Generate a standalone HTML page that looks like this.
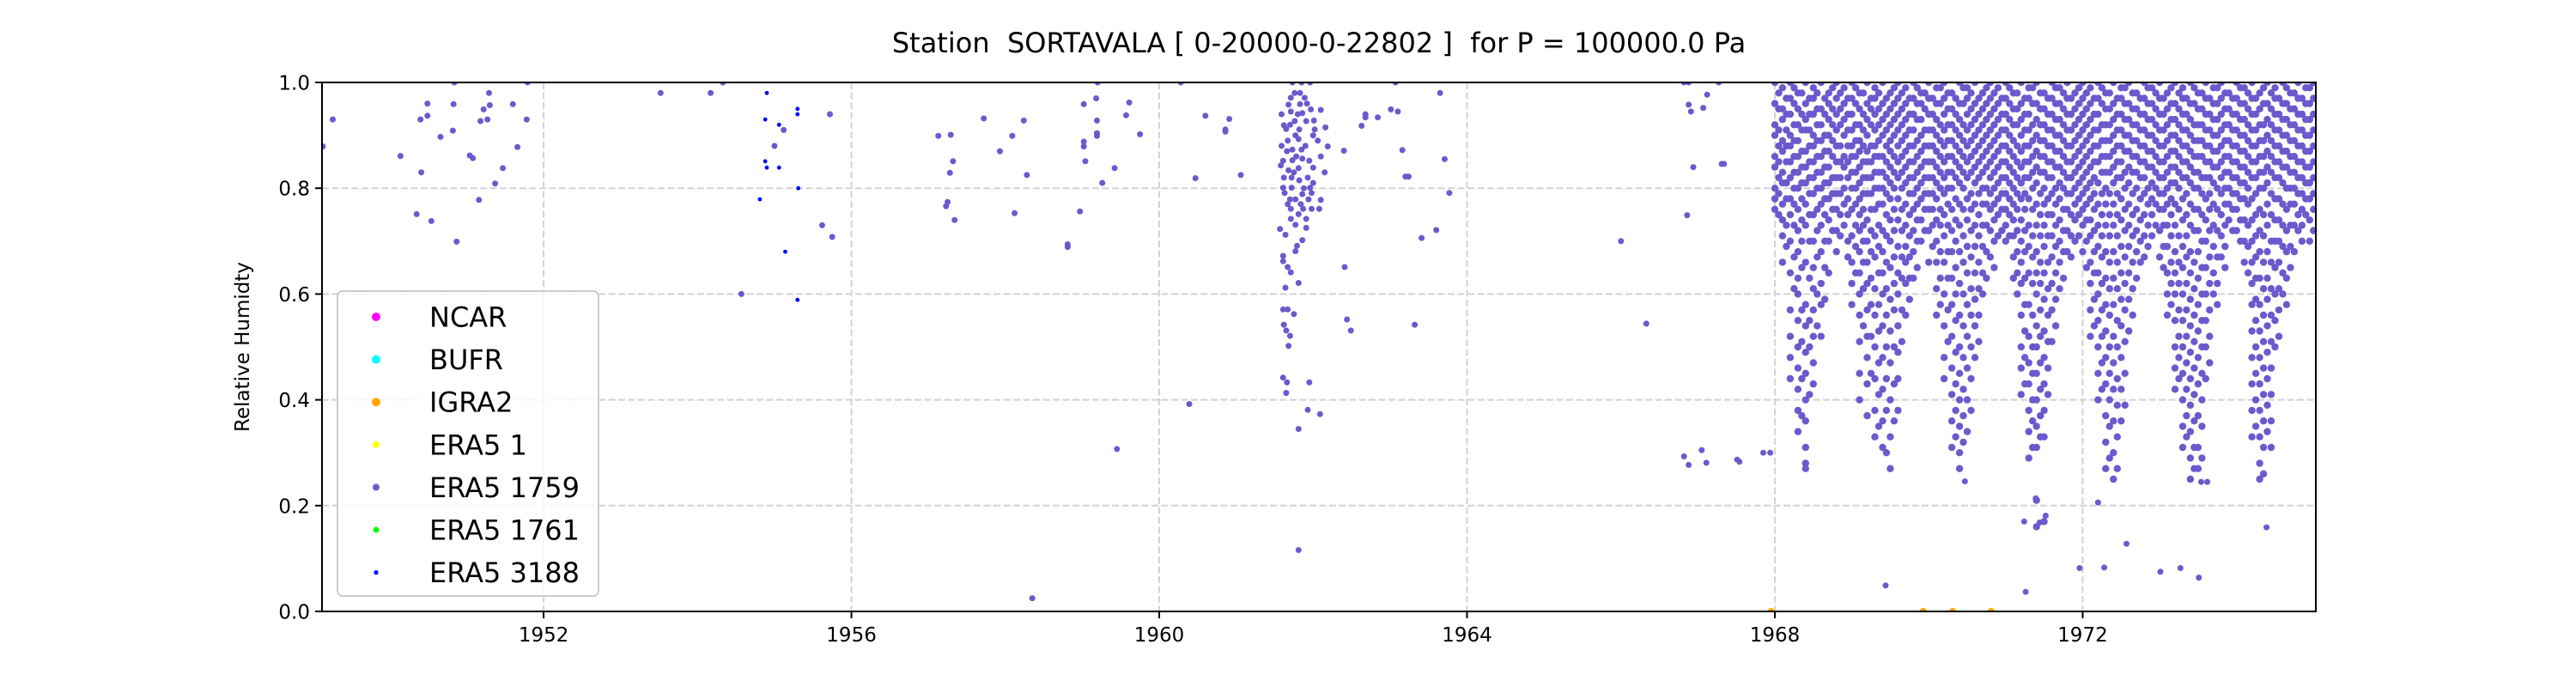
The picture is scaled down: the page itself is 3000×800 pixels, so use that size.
<!DOCTYPE html>
<html><head><meta charset="utf-8">
<style>
html,body{margin:0;padding:0;background:#fff;}
svg{display:block;font-family:"DejaVu Sans","Liberation Sans",sans-serif;}
#title{white-space:pre;}
</style></head>
<body>
<svg id="chart" width="3000" height="800" viewBox="0 0 3000 800" xmlns="http://www.w3.org/2000/svg">
<rect width="3000" height="800" fill="#fff"/>
<text id="title" xml:space="preserve" x="1536" y="61" font-size="32" text-anchor="middle" fill="#000">Station  SORTAVALA [ 0-20000-0-22802 ]  for P = 100000.0 Pa</text>
<defs><clipPath id="plotclip"><rect x="375" y="96" width="2322" height="616"/></clipPath></defs>
<g id="grid"></g>
<g id="marks" clip-path="url(#plotclip)"></g>
<g id="axes"></g>
<g id="legend"></g>
</svg>
<script>
// ---- data ----
const xTickYears = [1952, 1956, 1960, 1964, 1968, 1972];
const yTickValues = [0.0, 0.2, 0.4, 0.6, 0.8, 1.0];
const yTickLabels = ["0.0", "0.2", "0.4", "0.6", "0.8", "1.0"];
const legendLabels = ["NCAR", "BUFR", "IGRA2", "ERA5 1", "ERA5 1759", "ERA5 1761", "ERA5 3188"];
const legendColors = ["#ff00ff", "#00ffff", "#ffa500", "#ffff00", "#6a5acd", "#00ff00", "#0000ff"];

// ERA5 1759 sparse observations (decimal year, relative humidity)
const sparseYears = [1949.13,1949.26,1950.14,1950.41,1950.35,1950.40,1950.49,1950.49,1950.54,1950.66,1950.84,1950.83,1950.82,1950.87,1951.04,1951.08,1951.16,1951.18,1951.22,1951.27,1951.29,1951.30,1951.37,1951.47,1951.60,1951.66,1951.78,1951.79,1953.52,1954.17,1954.33,1955.72,1955.12,1955.00,1954.57,1955.62,1955.75,1957.13,1957.29,1957.32,1957.28,1957.25,1957.23,1957.34,1957.72,1957.93,1958.09,1958.24,1958.28,1958.12,1958.35,1958.81,1958.81,1958.97,1959.02,1959.18,1959.20,1959.19,1959.19,1959.19,1959.02,1959.02,1959.04,1959.26,1959.42,1959.45,1959.61,1959.57,1959.75,
1960.28,1960.60,1960.91,1960.86,1960.86,1960.47,1961.06,1960.39,1962.40,1962.63,1962.68,1962.68,1962.84,1963.01,1963.10,1963.07,1963.65,1963.16,1963.71,1963.20,1963.24,1963.77,1963.60,1963.41,1962.41,1962.44,1962.49,1963.32,1966.00,1966.33,1966.86,1966.82,1966.88,1967.27,1967.12,1966.88,1966.91,1967.07,1966.94,1967.31,1966.82,1966.88,1967.05,1967.11,1967.51,1967.54,1967.85,1967.94,1967.34,1969.44,1970.47,1971.26,1971.39,1971.24,1971.44,1971.52,1971.96,1972.28,1972.20,1972.57,1973.01,1973.27,1973.51,1974.39,1973.54,1973.62,
1961.61,1961.61,1961.67,1961.71,1961.81,1961.64,1961.77,1961.79,1961.86,1961.57,1961.64,1961.77,1961.91,1961.71,1961.81,1961.91,1961.98,1962.08,1961.87,1961.71,1961.67,1961.84,1961.94,1962.10,1961.77,1961.70,1961.86,1961.98,1961.63,1961.61,1961.72,1961.96,1962.00,1961.62,1961.72,1961.82,1961.93,1962.15,1961.58,1961.68,1961.81,1962.00,1962.10,1961.61,1961.73,1961.86,1961.95,1961.59,1961.73,1961.85,1962.19,1961.67,1961.81,1962.06,1961.77,1962.00,1961.65,1961.82,1962.02,1962.16,1961.62,1961.76,1961.91,1962.01,1961.59,1961.71,1961.86,1961.97,1962.10,1961.68,1961.83,1961.89,1961.71,1961.76,1961.83,1961.73,1961.85,1961.96,1961.66,1961.78,1961.90,1961.70,1961.80,1961.92,1961.75,1961.88,
1961.61,1961.67,1961.75,1961.62,1961.65,1961.70,1961.68,1961.61,1961.66,1961.95,1961.65,1961.93,1962.09,1961.81,1961.81];
const sparseRH = [0.879,0.93,0.861,0.83,0.751,0.93,0.96,0.937,0.738,0.897,1.0,0.959,0.909,0.699,0.862,0.857,0.778,0.927,0.949,0.93,0.98,0.957,0.809,0.838,0.959,0.878,0.93,1.0,0.98,0.98,1.0,0.94,0.91,0.88,0.60,0.73,0.708,0.899,0.901,0.851,0.829,0.774,0.766,0.74,0.932,0.87,0.899,0.928,0.825,0.753,0.025,0.694,0.689,0.756,0.959,0.97,1.0,0.928,0.904,0.899,0.888,0.879,0.851,0.81,0.838,0.307,0.962,0.938,0.902,
1.0,0.937,0.931,0.911,0.907,0.819,0.825,0.392,0.871,0.918,0.94,0.934,0.934,0.949,0.945,1.0,0.98,0.872,0.855,0.822,0.822,0.791,0.721,0.706,0.651,0.552,0.531,0.542,0.70,0.544,0.749,1.0,1.0,1.0,0.977,0.958,0.945,0.952,0.84,0.846,0.293,0.277,0.305,0.281,0.287,0.283,0.30,0.30,0.846,0.049,0.246,0.037,0.214,0.17,0.168,0.181,0.082,0.083,0.206,0.128,0.075,0.082,0.064,0.159,0.245,0.245,
0.672,0.662,0.651,0.641,0.621,0.612,0.681,0.691,0.702,0.723,0.712,0.731,0.725,0.742,0.751,0.742,0.761,0.761,0.761,0.761,0.770,0.770,0.779,0.778,0.779,0.779,0.789,0.791,0.791,0.801,0.801,0.801,0.81,0.82,0.82,0.815,0.82,0.83,0.843,0.834,0.838,0.839,0.86,0.852,0.853,0.856,0.852,0.88,0.873,0.873,0.879,0.89,0.893,0.89,0.90,0.90,0.912,0.911,0.911,0.915,0.919,0.927,0.927,0.928,0.94,0.945,0.942,0.949,0.948,0.958,0.959,0.971,0.971,0.98,0.98,1.0,1.0,1.0,0.87,0.86,0.88,0.92,0.94,0.96,0.83,0.80,
0.571,0.571,0.562,0.542,0.531,0.521,0.502,0.442,0.433,0.433,0.413,0.381,0.373,0.345,0.116];

// ERA5 1759 dense period: column years and RH values in percent
const denseYears = [1968.0,1968.1,1968.2,1968.3,1968.4,1968.5,1968.6,1968.7,1968.8,1968.9,1969.0,1969.1,1969.2,1969.3,1969.4,1969.5,1969.6,1969.7,1969.8,1969.9,1970.0,1970.1,1970.2,1970.3,1970.4,1970.5,1970.6,1970.7,1970.8,1970.9,1971.0,1971.1,1971.2,1971.3,1971.4,1971.5,1971.6,1971.7,1971.8,1971.9,1972.0,1972.1,1972.2,1972.3,1972.4,1972.5,1972.6,1972.7,1972.8,1972.9,1973.0,1973.1,1973.2,1973.3,1973.4,1973.5,1973.6,1973.7,1973.8,1973.9,1974.0,1974.1,1974.2,1974.3,1974.4,1974.5,1974.6,1974.7,1974.8,1974.9,1975.0];
const denseRHpct = [
[100,96,92,90,86,84,80,78,76],
[99,95,93,89,87,83,81,77,74,71,66],
[100,97,94,90,88,85,82,78,75,70,64,57,52,48,44],
[98,95,92,89,86,83,80,76,72,68,63,60,55,50,46,42,38,34],
[100,96,93,91,87,84,81,77,73,66,58,54,49,45,40,36,31,27,28],
[99,97,94,90,88,85,82,79,75,70,65,61,57,52,47,43],
[100,95,92,89,86,83,80,77,73,68,62,58,52],
[98,96,93,90,87,84,81,78,74,70,64],
[100,97,94,91,88,85,82,79,76,72,68],
[99,96,93,90,86,84,80,77,73],
[100,97,94,91,88,86,83,80,76,71,66,62,58],
[98,95,92,89,87,84,81,78,75,72,68,64,60,56,51,45,40],
[100,96,93,90,87,85,82,79,74,70,66,62,57,52,48,43,37],
[99,97,94,91,88,86,83,80,76,71,67,61,56,50,44,38,33],
[100,96,93,90,86,83,80,77,72,68,64,60,54,48,42,36,31],
[98,95,92,89,87,84,81,78,74,70,65,59,53,47,40,33,27],
[100,97,94,91,88,85,82,78,74,69,64,60,54,49,44,38],
[99,96,93,90,87,84,81,77,73,69,66,62,56],
[100,97,94,91,88,85,82,79,76,72,68,63],
[98,96,93,90,87,84,81,78,74,70],
[100,97,94,91,88,85,82,79,76,72,66],
[99,96,93,90,87,84,81,78,74,70,66,61,56],
[100,97,94,91,88,85,82,79,75,71,66,60,54,48,44],
[98,95,92,89,86,83,80,76,72,68,63,58,52,46,41,36,31],
[100,96,93,90,87,84,81,77,73,68,62,56,50,45,40,35,30,27],
[99,97,94,91,88,85,82,78,74,69,64,58,52,46,40,34],
[100,96,93,90,87,84,81,77,73,69,64,59,54,48],
[98,95,92,89,86,83,80,77,73,69,64,60],
[100,97,94,91,88,85,82,79,76,72,67],
[99,96,93,90,87,84,81,78,75,71],
[100,97,94,91,88,85,82,79,76,73,70],
[98,95,92,89,86,83,80,77,74,71,67,63],
[100,96,93,90,87,84,81,78,74,70,66,62,56,50,46,41],
[99,97,94,91,88,85,82,78,73,69,64,58,52,47,43,38,34,29],
[100,96,93,90,87,84,81,77,73,68,64,60,54,50,45,40,35,31,21,16],
[98,95,92,89,86,83,80,77,73,69,64,59,53,48,43,38,33,17],
[100,97,94,91,88,85,82,79,75,71,67,62,57,51],
[99,96,93,90,87,84,81,78,74,70,66,61],
[100,97,94,91,88,85,82,79,76,72,68],
[98,95,92,89,86,83,80,77,74,70],
[100,97,94,91,88,85,82,79,76,73,68],
[99,96,93,90,87,84,81,78,74,71,66,62,57,52],
[100,97,94,91,88,85,81,77,73,69,64,60,55,50,45,40],
[98,95,92,89,86,83,80,77,73,68,63,58,53,48,43,37,32,27],
[100,96,93,90,87,84,81,77,73,68,63,58,52,47,42,36,30,25],
[99,97,94,91,88,85,82,78,74,69,64,59,54,48,42,36],
[100,96,93,90,87,84,81,77,73,69,64,59,53],
[98,95,92,89,86,83,80,76,72,68,63],
[100,97,94,91,88,85,82,79,75,71,67],
[99,96,93,90,87,84,81,78,75,71],
[100,97,94,91,88,85,82,79,76,72,67],
[98,95,92,89,86,83,80,77,73,69,64,60,56],
[100,96,93,90,87,84,81,77,73,68,64,60,55,50,46,42],
[99,97,94,91,88,85,82,78,74,69,65,60,55,50,45,40,35,31],
[100,96,93,90,87,84,81,77,73,68,64,59,54,49,44,39,34,29,25],
[98,95,92,89,86,83,80,76,72,68,63,58,53,48,43,37,31,27],
[100,97,94,91,88,85,82,78,74,70,65,60,55,50,44],
[99,96,93,90,87,84,81,77,73,69,64,60],
[100,97,94,91,88,85,82,79,75,71,67],
[98,95,92,89,86,83,80,77,74],
[100,97,94,91,88,85,82,79,76,72],
[99,96,93,90,87,84,81,78,74,70,66],
[100,97,94,91,88,85,82,78,74,70,66,62,58,53,48,43,38,33],
[98,95,92,89,86,83,80,76,72,68,63,58,53,48,43,38,33,28,25],
[100,96,93,90,87,84,81,77,73,68,63,59,54,49,44,39,34],
[99,97,94,91,88,85,82,78,74,70,65,60,55,50],
[100,96,93,90,87,84,81,77,73,69,64,60],
[98,95,92,89,86,83,80,77,73,69,65],
[100,97,94,91,88,85,82,79,75,72],
[99,96,93,90,87,84,81,78,75],
[100,97,94,91,88,85,82,79,76,72]];

// ERA5 1759 dense period: in-between columns (upper band)
const midYears = [1968.05,1968.15,1968.25,1968.35,1968.45,1968.55,1968.65,1968.75,1968.85,1968.95,1969.05,1969.15,1969.25,1969.35,1969.45,1969.55,1969.65,1969.75,1969.85,1969.95,1970.05,1970.15,1970.25,1970.35,1970.45,1970.55,1970.65,1970.75,1970.85,1970.95,1971.05,1971.15,1971.25,1971.35,1971.45,1971.55,1971.65,1971.75,1971.85,1971.95,1972.05,1972.15,1972.25,1972.35,1972.45,1972.55,1972.65,1972.75,1972.85,1972.95,1973.05,1973.15,1973.25,1973.35,1973.45,1973.55,1973.65,1973.75,1973.85,1973.95,1974.05,1974.15,1974.25,1974.35,1974.45,1974.55,1974.65,1974.75,1974.85,1974.95];
const midRHpct = [
[98,95,91,88,85,82,79,75],[97,94,91,88,85,81,78,73,69],[99,96,92,89,86,83,80,77,73,67,61],[98,94,91,87,84,81,78,74,70,65,57,51,44,37],
[97,94,91,88,85,82,79,75,70,63,55,50,41],[98,95,92,89,86,83,80,76,72,67,60,54],[97,94,90,87,84,81,78,75,70,65,59],[99,95,92,89,86,82,79,76,72],
[98,95,92,88,85,82,79,75,71],[97,94,91,88,85,82,78,75,70,67],[99,96,92,89,86,83,80,77,73,69,64],[98,94,91,88,85,82,79,76,73,70,66,61,54],
[97,95,92,88,85,82,79,76,72,68,63,58,52,45],[98,95,92,89,86,83,80,77,73,69,64,58,53,47,41,35],[97,94,91,88,85,82,79,75,71,66,61,56,50,44,38,30],[99,96,93,90,86,83,80,76,72,67,62,57,50,43,36],
[98,95,92,89,86,83,80,76,72,67,63,57,51],[97,94,91,88,85,82,79,75,71,67,63,59],[99,96,93,89,86,83,80,77,74,70,65],[98,95,91,88,85,82,79,76,72],
[97,94,91,88,85,82,79,76,73,69],[99,96,92,89,86,83,80,76,73,68,63,58],[98,95,92,89,86,83,80,77,73,68,63,57,51],[97,94,91,88,85,82,78,74,70,65,60,55,49,43,38,33],
[99,96,92,89,86,83,80,76,71,66,60,54,48,42,37,32],[98,95,92,89,86,83,79,76,72,67,61,56,50,44,38],[97,94,91,88,85,82,79,75,71,66,61,56,51],[99,96,93,90,87,84,80,77,73,68,63],
[98,95,92,89,86,83,80,77,74,70,65],[97,94,91,88,85,82,79,76,72],[99,96,93,90,87,84,81,78,75,71],[98,95,92,88,85,82,79,76,72,68,64,60],
[97,94,91,88,85,82,79,76,72,68,63,58,53,48,43],[99,96,92,89,86,83,80,76,71,67,62,56,50,45,40,36,31],[98,95,92,89,86,83,79,75,71,66,62,57,52,47,42,37,33],[97,94,91,88,85,82,78,75,71,66,61,56,51,46,41],
[99,96,93,90,87,84,80,77,73,69,64,59,54],[98,95,92,89,86,83,80,76,72,68,63],[97,94,91,88,85,82,79,75,71,67],[99,96,93,90,87,84,81,78,75,71],
[98,95,92,89,86,83,80,77,74,70,65],[97,94,91,88,85,82,79,76,72,68,64,59,54],[99,96,92,89,86,83,79,75,71,67,62,57,52,47,42],[98,95,92,89,86,83,79,75,71,66,61,56,50,45,40,35,29],
[97,94,91,88,85,82,79,75,71,66,61,55,50,44,39,33,27],[99,96,93,90,87,83,80,76,72,67,62,57,51,45,39],[98,95,92,89,86,83,79,75,71,66,61,56],[97,94,91,88,85,82,78,74,70,66],
[99,96,93,90,87,84,80,77,73,69],[98,95,92,89,86,83,80,77,73],[97,94,91,88,85,82,79,76,73,69,65],[99,96,93,90,87,84,81,78,75,71,66,62,58],
[98,95,92,89,86,83,80,76,71,66,62,57,52,48,44],[97,94,91,88,85,82,79,75,71,67,62,57,52,47,42,37,33],[99,96,92,89,86,83,80,76,72,66,61,56,51,46,41,36,31,27],[98,95,92,89,86,82,79,75,70,65,60,55,50,45,40,35,29],
[97,94,91,88,85,82,79,76,72,67,62,57,52,47],[99,96,93,90,87,84,80,76,72,67,62,58],[98,95,92,89,86,83,80,77,73,69,65],[97,94,91,88,85,82,79,76,72],
[99,96,93,90,87,84,81,78,74,70],[98,95,92,89,86,83,80,77,73,69,64],[97,94,91,88,85,82,79,75,71,67,63,59,55,50,45,40,35],[99,96,92,89,86,83,80,75,71,66,61,56,51,46,41,36,31,26],
[98,95,92,89,86,83,79,75,70,66,61,56,51,46,41,36,31],[97,94,91,88,85,82,78,74,70,66,61,57,52],[99,96,93,90,87,84,80,76,72,68,63,58],[98,95,92,89,86,83,80,77,73,68],
[97,94,91,88,85,82,79,76,73,70],[99,96,93,90,87,84,81,78,74,70]];

// ERA5 3188 observations
const years3188 = [1954.90,1954.88,1955.06,1954.88,1954.90,1955.06,1955.30,1955.30,1955.31,1954.81,1955.14,1955.30];
const rh3188 = [0.98,0.93,0.92,0.851,0.839,0.839,0.95,0.94,0.80,0.779,0.68,0.589];

// IGRA2 observations
const yearsIGRA2 = [1967.95,1969.93,1970.31,1970.81];
const rhIGRA2 = [0.0,0.0,0.0,0.0];

// ---- axes ----
const X0 = 375, X1 = 2697, Y0 = 712, Y1 = 96;
const YEAR0 = 1949.12, YEAR1 = 1975.03;
function xScale(yr){ return X0 + (yr - YEAR0) / (YEAR1 - YEAR0) * (X1 - X0); }
function yScale(v){ return Y0 - v * (Y0 - Y1); }

const NS = "http://www.w3.org/2000/svg";
function mk(tag, attrs, parent){
  const e = document.createElementNS(NS, tag);
  for (const k in attrs) e.setAttribute(k, attrs[k]);
  parent.appendChild(e);
  return e;
}
const grid = document.getElementById('grid');
const marks = document.getElementById('marks');
const axes = document.getElementById('axes');
const legend = document.getElementById('legend');

xTickYears.forEach(function(yr){
  const l = mk('line', {x1:xScale(yr), x2:xScale(yr), y1:Y1, y2:Y0, stroke:'#d3d3d3', 'stroke-width':2, 'stroke-dasharray':'8,3.5'}, grid);
  
  
});
yTickValues.forEach(function(v){
  const l = mk('line', {x1:X0, x2:X1, y1:yScale(v), y2:yScale(v), stroke:'#d3d3d3', 'stroke-width':2, 'stroke-dasharray':'8,3.5'}, grid);
  
  
});

const C1759 = '#6a5acd';
function dot(yr, v, r, color, name){
  const c = mk('circle', {cx:xScale(yr).toFixed(1), cy:yScale(v).toFixed(1), r:r, fill:color}, marks);
  
  
}
for (let i = 0; i < sparseYears.length; i++) dot(sparseYears[i], sparseRH[i], 3.5, C1759, 'point-era5-1759');
for (let i = 0; i < denseYears.length; i++) {
  denseRHpct[i].forEach(function(p){ dot(denseYears[i], p / 100, 4.2, C1759, 'point-era5-1759'); });
}
for (let i = 0; i < midYears.length; i++) {
  midRHpct[i].forEach(function(p){ dot(midYears[i], p / 100, 4.2, C1759, 'point-era5-1759'); });
}
for (let i = 0; i < years3188.length; i++) dot(years3188[i], rh3188[i], 2.4, '#0000ff', 'point-era5-3188');
for (let i = 0; i < yearsIGRA2.length; i++) dot(yearsIGRA2[i], rhIGRA2[i], 4, '#ffa500', 'point-igra2');

const frame = mk('rect', {x:X0, y:Y1, width:X1-X0, height:Y0-Y1, fill:'none', stroke:'#000', 'stroke-width':2}, axes);



xTickYears.forEach(function(yr){
  const t = mk('line', {x1:xScale(yr), x2:xScale(yr), y1:Y0, y2:Y0+8, stroke:'#000', 'stroke-width':2}, axes);
  
  
  const tx = mk('text', {x:xScale(yr), y:Y0+35, 'font-size':23, 'text-anchor':'middle', fill:'#000'}, axes);
  tx.textContent = String(yr);
  
  
});
yTickValues.forEach(function(v, i){
  const t = mk('line', {x1:X0-8, x2:X0, y1:yScale(v), y2:yScale(v), stroke:'#000', 'stroke-width':2}, axes);
  
  
  const tx = mk('text', {x:X0-14, y:yScale(v)+8.5, 'font-size':23, 'text-anchor':'end', fill:'#000'}, axes);
  tx.textContent = yTickLabels[i];
  
  
});
const yl = mk('text', {x:0, y:0, 'font-size':23, 'text-anchor':'middle', fill:'#000', transform:'translate(290,404) rotate(-90)'}, axes);
yl.textContent = 'Relative Humidty';



const lb = mk('rect', {x:393, y:339, width:304, height:355, rx:6, fill:'#fff', 'fill-opacity':0.8, stroke:'#cccccc', 'stroke-width':2}, legend);


const legendR = [5, 5, 5, 4, 4, 3.5, 2.6];
legendLabels.forEach(function(lbl, i){
  const cy = 369 + i * 49.6;
  const g = mk('g', {}, legend);
  
  
  const c = mk('circle', {cx:438, cy:cy, r:legendR[i], fill:legendColors[i]}, g);
  
  
  const t = mk('text', {x:500, y:cy+11.5, 'font-size':32, fill:'#000'}, g);
  t.textContent = lbl;
  
  
});
</script>
</body></html>
